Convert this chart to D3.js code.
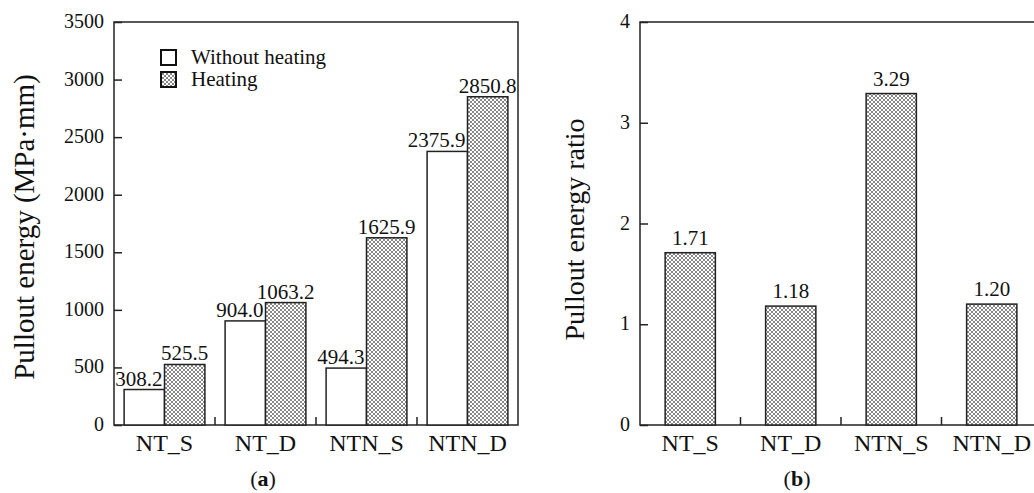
<!DOCTYPE html>
<html>
<head>
<meta charset="utf-8">
<script src="https://cdn.jsdelivr.net/npm/d3@7"></script>
<style>
  body { margin: 0; background: #fff; }
  svg text { fill: #111; }
</style>
</head>
<body>
<script>
// data
const categories = ["NT_S", "NT_D", "NTN_S", "NTN_D"];
const seriesNames = ["Without heating", "Heating"];
const withoutHeating = [308.2, 904.0, 494.3, 2375.9];
const heating = [525.5, 1063.2, 1625.9, 2850.8];
const ratio = [1.71, 1.18, 3.29, 1.20];
const energyTicks = [0, 500, 1000, 1500, 2000, 2500, 3000, 3500];
const ratioTicks = [0, 1, 2, 3, 4];

const serif = "'Liberation Serif', 'DejaVu Serif', serif";

const svg = d3.select("body").append("svg")
  .attr("width", 1034)
  .attr("height", 493)
  .attr("font-family", serif);

// cross hatch fill
const pat = svg.append("defs").append("pattern")
  .attr("id", "hatch")
  .attr("patternUnits", "userSpaceOnUse")
  .attr("width", 4)
  .attr("height", 4);
pat.append("rect").attr("width", 4).attr("height", 4).attr("fill", "#fff");
pat.append("path")
  .attr("d", "M0,0 L4,4 M4,0 L0,4 M-1,3 L1,5 M3,-1 L5,1 M-1,1 L1,-1 M3,5 L5,3")
  .attr("stroke", "#555")
  .attr("stroke-width", 0.7);

function panel(left, right, pTop, pBottom) {
  const g = svg.append("g");
  // frame
  g.append("path")
    .attr("d", `M${left},${pBottom} L${left},${pTop} L${right},${pTop} L${right},${pBottom} Z`)
    .attr("fill", "none")
    .attr("stroke", "#222")
    .attr("stroke-width", 1.5);
  return g;
}

function yAxis(g, y, ticks, left, fmt) {
  const ax = g.append("g")
    .attr("transform", `translate(${left},0)`)
    .call(d3.axisRight(y).tickValues(ticks).tickSize(8).tickFormat(""));
  ax.select(".domain").remove();
  ax.selectAll("line").attr("stroke", "#222").attr("stroke-width", 1.5);
  g.selectAll(null).data(ticks).enter().append("text")
    .attr("x", left - 10)
    .attr("y", d => y(d) + 6)
    .attr("text-anchor", "end")
    .style("font-family", serif)
    .style("font-size", "20px")
    .text(fmt);
}

function xAxis(g, x, pBottom) {
  const seps = categories.slice(1).map(c => x(c) - x.step() * x.paddingInner() / 2);
  g.selectAll(null).data(seps).enter().append("line")
    .attr("x1", d => d).attr("x2", d => d)
    .attr("y1", pBottom).attr("y2", pBottom - 8)
    .attr("stroke", "#222").attr("stroke-width", 1.5);
  g.selectAll(null).data(categories).enter().append("text")
    .attr("x", d => x(d) + x.bandwidth() / 2)
    .attr("y", pBottom + 26)
    .attr("text-anchor", "middle")
    .style("font-family", serif)
    .style("font-size", "24px")
    .text(d => d);
}

// ---- panel (a)
const aL = 114, aR = 518, plotTop = 22, plotBottom = 425;
const ga = panel(aL, aR, plotTop, plotBottom);
const x0 = d3.scaleBand().domain(categories).range([aL, aR]).padding(0);
const x1 = d3.scaleBand().domain(seriesNames).range([x0.bandwidth() * 0.1, x0.bandwidth() * 0.9]);
const ya = d3.scaleLinear().domain([0, 3500]).range([plotBottom, plotTop]);

const rows = categories.map((c, i) => ({cat: c, vals: [withoutHeating[i], heating[i]]}));
const grp = ga.selectAll(".grp").data(rows).enter().append("g")
  .attr("transform", d => `translate(${x0(d.cat)},0)`);
grp.selectAll("rect").data(d => d.vals).enter().append("rect")
  .attr("x", (d, i) => x1(seriesNames[i]))
  .attr("y", d => ya(d))
  .attr("width", x1.bandwidth())
  .attr("height", d => plotBottom - ya(d))
  .attr("fill", (d, i) => i ? "url(#hatch)" : "#fff")
  .attr("stroke", "#222")
  .attr("stroke-width", 1.5);
grp.selectAll("text").data(d => d.vals).enter().append("text")
  .attr("x", (d, i) => i ? x1(seriesNames[i]) + x1.bandwidth() / 2 : x1(seriesNames[i]) + x1.bandwidth() - 2)
  .attr("y", d => ya(d) - 4)
  .attr("text-anchor", (d, i) => i ? "middle" : "end")
  .style("font-family", serif)
  .style("font-size", "21px")
  .text(d => d.toFixed(1));

yAxis(ga, ya, energyTicks, aL, d => d);
xAxis(ga, x0, plotBottom);

ga.append("text")
  .attr("transform", `translate(34,227) rotate(-90)`)
  .attr("text-anchor", "middle")
  .style("font-family", serif)
  .style("font-size", "29px")
  .text("Pullout energy (MPa·mm)");

// legend
const leg = ga.selectAll(".leg").data(seriesNames).enter().append("g")
  .attr("transform", (d, i) => `translate(161,${50 + i * 22})`);
leg.append("rect")
  .attr("width", 15).attr("height", 15)
  .attr("fill", (d, i) => i ? "url(#hatch)" : "#fff")
  .attr("stroke", "#111").attr("stroke-width", 2);
leg.append("text")
  .attr("x", 30).attr("y", 14)
  .style("font-family", serif)
  .style("font-size", "21px")
  .text(d => d);

ga.append("text")
  .attr("x", 263).attr("y", 486)
  .attr("text-anchor", "middle")
  .style("font-family", serif)
  .style("font-size", "22px")
  .html('(<tspan font-weight="bold">a</tspan>)');

// ---- panel (b)
const bL = 640, bR = 1042;
const gb = panel(bL, bR, plotTop, plotBottom);
const xb = d3.scaleBand().domain(categories).range([bL, bR]).paddingInner(0.5).paddingOuter(0.25);
const yb = d3.scaleLinear().domain([0, 4]).range([plotBottom, plotTop]);

gb.selectAll(".bar").data(ratio).enter().append("rect")
  .attr("x", (d, i) => xb(categories[i]))
  .attr("y", d => yb(d))
  .attr("width", xb.bandwidth())
  .attr("height", d => plotBottom - yb(d))
  .attr("fill", "url(#hatch)")
  .attr("stroke", "#222")
  .attr("stroke-width", 1.5);
gb.selectAll(".val").data(ratio).enter().append("text")
  .attr("x", (d, i) => xb(categories[i]) + xb.bandwidth() / 2)
  .attr("y", d => yb(d) - 8)
  .attr("text-anchor", "middle")
  .style("font-family", serif)
  .style("font-size", "21px")
  .text(d => d.toFixed(2));

yAxis(gb, yb, ratioTicks, bL, d => d);
xAxis(gb, xb, plotBottom);

gb.append("text")
  .attr("transform", `translate(584,${(plotTop + plotBottom) / 2 + 6}) rotate(-90)`)
  .attr("text-anchor", "middle")
  .style("font-family", serif)
  .style("font-size", "28px")
  .text("Pullout energy ratio");

gb.append("text")
  .attr("x", 797).attr("y", 486)
  .attr("text-anchor", "middle")
  .style("font-family", serif)
  .style("font-size", "22px")
  .html('(<tspan font-weight="bold">b</tspan>)');
</script>
</body>
</html>
